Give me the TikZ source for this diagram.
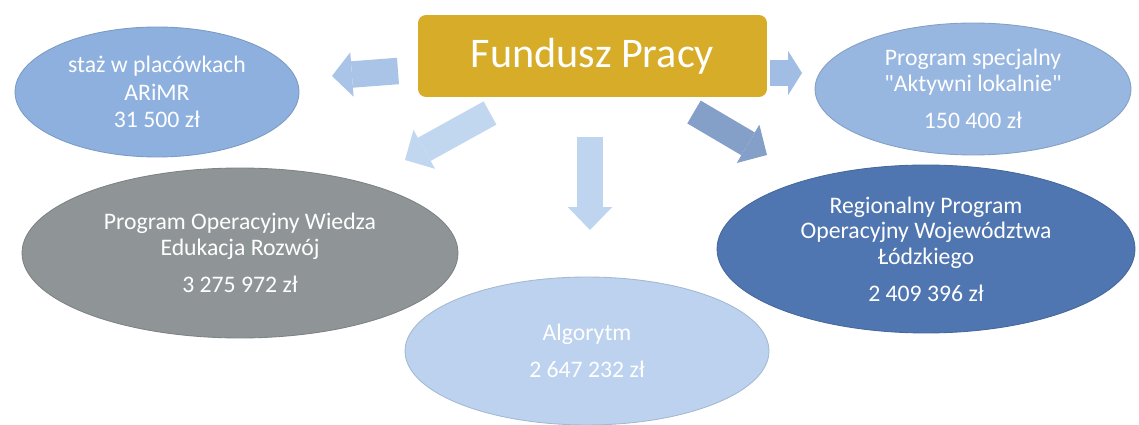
\documentclass[tikz,border=0pt]{standalone}
\usepackage{fontspec}
\setmainfont{Carlito}[Ligatures=TeXOff]
\usetikzlibrary{shapes.geometric,arrows.meta}
\definecolor{gold}{HTML}{D6AC28}
\definecolor{ovalA}{HTML}{8DB0DF}
\definecolor{ovalB}{HTML}{8F9597}
\definecolor{ovalC}{HTML}{BCD2EE}
\definecolor{ovalD}{HTML}{97B6E0}
\definecolor{ovalE}{HTML}{4F76B0}

\begin{document}
\begin{tikzpicture}[x=0.02cm,y=-0.02cm,
        oval/.style={ellipse,inner sep=0pt,fill=#1,draw=#1!88!black,line width=0.5pt,
          text=white,align=center,font=\fontsize{13.5}{14.5}\selectfont},
        blockarrow/.style={line width=0.53cm,-{Triangle[width=0.89cm,length=#1,line width=0pt]}},
        blockarrow/.default=0.44cm]
        \useasboundingbox (0,0) rectangle (1139,425);

        \node[fill=gold,rounded corners=0.16cm,minimum width=6.98cm,minimum height=1.64cm,
          text=white,font=\fontsize{24}{27}\selectfont] (fp) at (592.5,56) {Fundusz Pracy};

        \node[oval=ovalA,minimum width=5.68cm,minimum height=2.6cm] (staz) at (157,92)
          {sta\.z w plac\'owkach\\[1pt] ARiMR\\[1pt] 31 500 z\l};
        \node[oval=ovalB,minimum width=8.72cm,minimum height=3.4cm] (power) at (240,253)
          {Program Operacyjny Wiedza\\ Edukacja Rozw\'oj\\[6.5pt] 3 275 972 z\l};
        \node[oval=ovalC,minimum width=7.28cm,minimum height=2.96cm] (alg) at (587,351)
          {Algorytm\\[6.5pt] 2 647 232 z\l};
        \node[oval=ovalD,minimum width=6.32cm,minimum height=2.64cm] (spec) at (973,89)
          {Program specjalny\\ "Aktywni lokalnie"\\[6.5pt] 150 400 z\l};
        \node[oval=ovalE,minimum width=8.36cm,minimum height=3.36cm] (rpo) at (926,249)
          {Regionalny Program\\ Operacyjny Wojew\'odztwa\\ \L\'odzkiego\\[6.5pt] 2 409 396 z\l};

        \coordinate (stazA) at (398,71);  \coordinate (stazB) at (332,76);
        \coordinate (powerA) at (490,113); \coordinate (powerB) at (405,160);
        \coordinate (algA) at (590,137);  \coordinate (algB) at (590,230);
        \coordinate (specA) at (770,73);  \coordinate (specB) at (802,73);
        \coordinate (rpoA) at (694,112);  \coordinate (rpoB) at (767,155);

        \draw[blockarrow=0.4cm,draw=ovalA!75!white] (stazA) -- (stazB);
        \draw[blockarrow,draw=ovalC!92!white] (powerA) -- (powerB);
        \draw[blockarrow=0.46cm,draw=ovalC!95!white] (algA) -- (algB);
        \draw[blockarrow=0.28cm,draw=ovalD!90!white] (specA) -- (specB);
        \draw[blockarrow,draw=ovalE!70!white] (rpoA) -- (rpoB);
        \end{tikzpicture}
\end{document}
